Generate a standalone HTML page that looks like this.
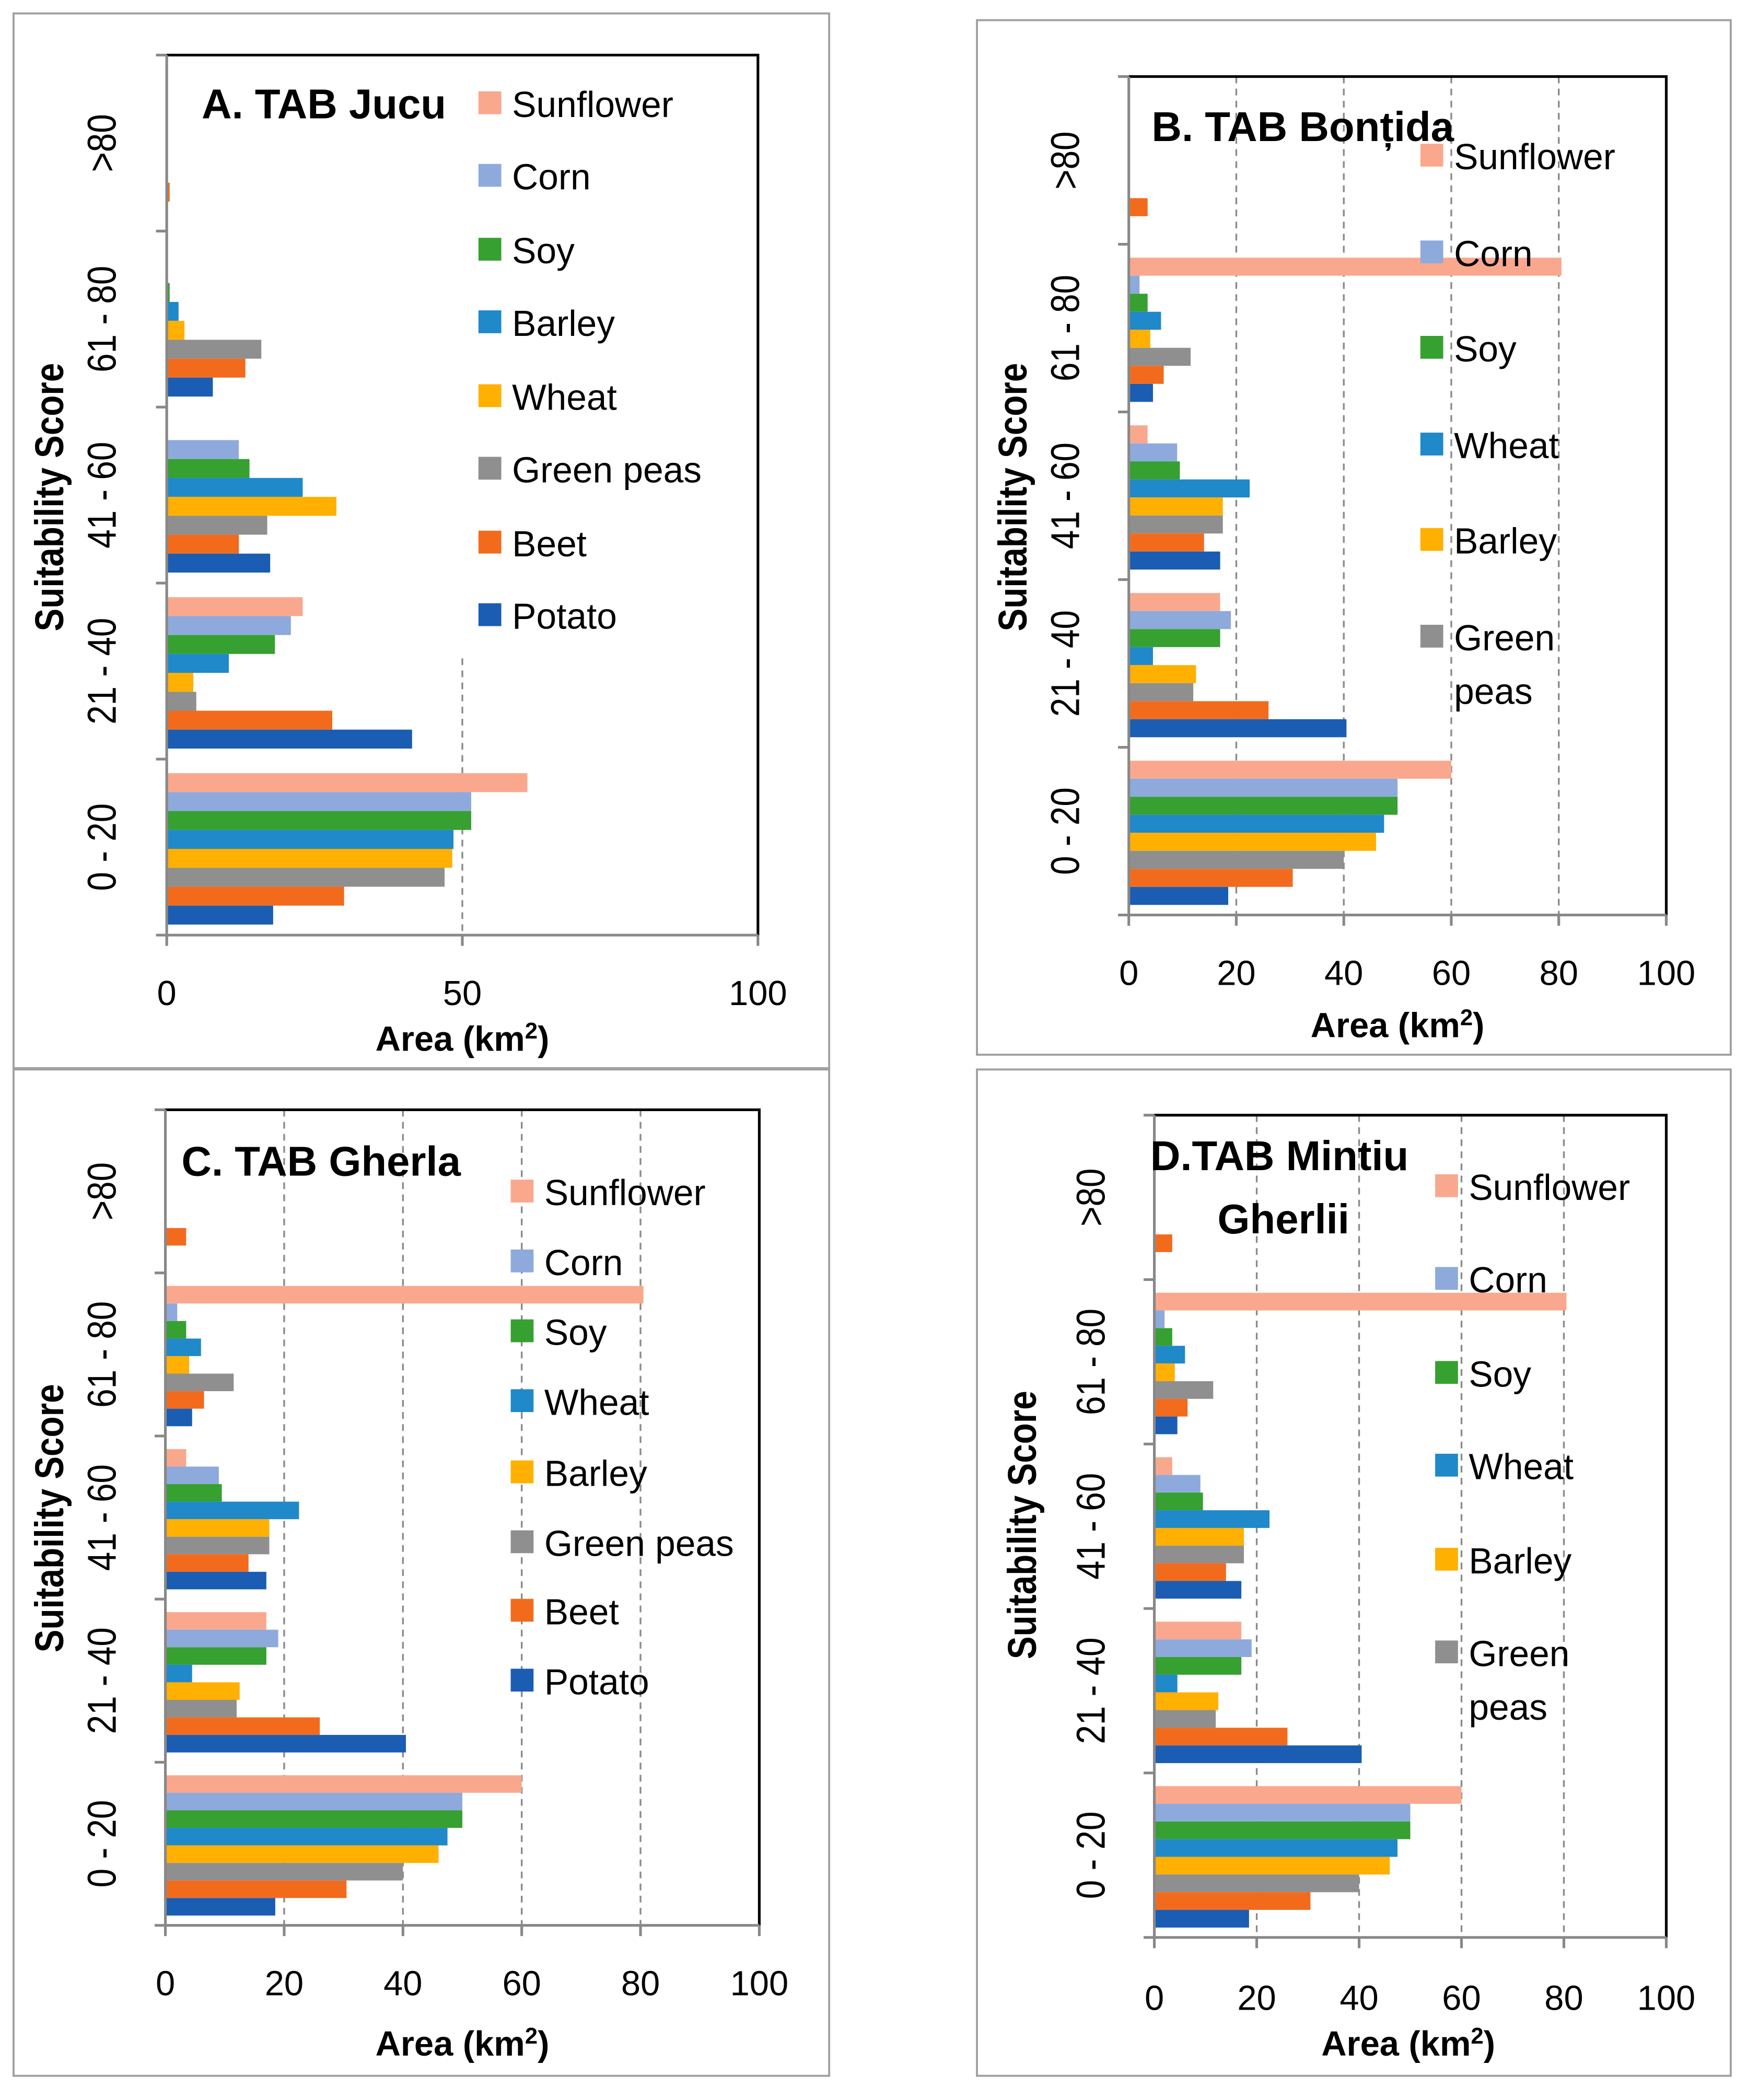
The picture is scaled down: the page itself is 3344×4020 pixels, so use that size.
<!DOCTYPE html>
<html><head><meta charset="utf-8"><style>
html,body{margin:0;padding:0;background:#fff;}
svg{display:block;}
text{font-family:"Liberation Sans","DejaVu Sans",sans-serif;fill:#000;}
</style></head><body>
<svg id="fig" width="3344" height="4020" viewBox="0 0 1300 1563" xmlns="http://www.w3.org/2000/svg"></svg>
<script>
const categories = ["0 - 20","21 - 40","41 - 60","61 - 80",">80"];
const namesA = ["Sunflower","Corn","Soy","Barley","Wheat","Green peas","Beet","Potato"];
const namesB = ["Sunflower","Corn","Soy","Wheat","Barley","Green peas","Beet","Potato"];
// values[series][category]
const valuesA = [
  [61,23,0.2,0,0],
  [51.5,21,12.2,0,0],
  [51.5,18.3,14,0.5,0],
  [48.5,10.5,23,2,0],
  [48.3,4.5,28.7,3,0],
  [47,5,17,16,0],
  [30,28,12.2,13.3,0.5],
  [18,41.5,17.5,7.8,0]
];
const valuesB = [
  [60,17,3.5,80.5,0],
  [50,19,9,2,0],
  [50,17,9.5,3.5,0],
  [47.5,4.5,22.5,6,0],
  [46,12.5,17.5,4,0],
  [40,12,17.5,11.5,0],
  [30.5,26,14,6.5,3.5],
  [18.5,40.5,17,4.5,0]
];
const ticksA = [0,50,100];
const ticksB = [0,20,40,60,80,100];
const colors = ["#f9a88e","#8eaadc","#36a030","#1f89c9","#ffb000","#8f8f8f","#f26b1d","#1a5db3"];

const NS="http://www.w3.org/2000/svg";
const svg=document.getElementById('fig');
function mk(tag,attrs,parent){const e=document.createElementNS(NS,tag);for(const k in attrs)e.setAttribute(k,attrs[k]);(parent||svg).appendChild(e);return e;}

const panels=[
 {id:'a',frame:[10,10,607,785],L:124,R:564,T:41,B:696,values:valuesA,names:namesA,ticks:ticksA,grid:[[50,490]],
  title:[["A. TAB Jucu",150,88]],legX:356,legY:[77,131,186,240,295,349,404,458],legShow:8,ylabX:86,ytX:47,ytY:370,tickY:748,xtY:782,xtX:344},
 {id:'b',frame:[727,15,561,770],L:840,R:1240,T:57,B:681,values:valuesB,names:namesB,ticks:ticksB,grid:[[20,57],[40,57],[60,57],[80,57]],
  title:[["B. TAB Bonțida",857,105]],legX:1057,legY:[116,188,259,331,402,474],legShow:6,split:true,ylabX:803,ytX:764,ytY:370,tickY:733,xtY:772,xtX:1040},
 {id:'c',frame:[10,796,607,749],L:123,R:565,T:826,B:1433,values:valuesB,names:namesB,ticks:ticksB,grid:[[20,826],[40,826],[60,826],[80,826]],
  title:[["C. TAB Gherla",135,875]],legX:380,legY:[887,939,991,1043,1096,1148,1199,1251],legShow:8,ylabX:86,ytX:47,ytY:1130,tickY:1485,xtY:1530,xtX:344},
 {id:'d',frame:[727,796,561,749],L:859,R:1240,T:830,B:1442,values:valuesB,names:namesB,ticks:ticksB,grid:[[20,830],[40,830],[60,830],[80,830]],
  title:[["D.TAB Mintiu",856,871],["Gherlii",906,918]],legX:1068,legY:[883,952,1022,1091,1161,1230],legShow:6,split:true,ylabX:822,ytX:771,ytY:1135,tickY:1496,xtY:1530,xtX:1048}
];

panels.forEach(p=>{
  const g=mk('g',{});
  
  
  const fr=mk('rect',{x:p.frame[0],y:p.frame[1],width:p.frame[2],height:p.frame[3],fill:'#fff',stroke:'#a0a0a0','stroke-width':1.5},g);
  
  
  const xs=v=>p.L+(p.R-p.L)*v/100;
  const H=(p.B-p.T)/categories.length;
  p.grid.forEach(gr=>{
    const l=mk('line',{x1:xs(gr[0]),x2:xs(gr[0]),y1:gr[1],y2:p.B,stroke:'#8a8a8a','stroke-width':1.3,'stroke-dasharray':'5,4'},g);
    
    
  });
  const pf=mk('path',{d:`M${p.L},${p.T}H${p.R}V${p.B}`,fill:'none',stroke:'#000','stroke-width':2},g);
  
  
  const bh=H*0.86/8;
  categories.forEach((c,ci)=>{
    const cTop=p.B-(ci+1)*H;
    p.values.forEach((ser,si)=>{
      const v=ser[ci];
      if(v<=0)return;
      const r=mk('rect',{x:p.L,y:cTop+H*0.08+si*bh,width:xs(v)-p.L,height:bh,fill:colors[si]},g);
      
      
    });
    const t=mk('text',{x:0,y:0,'font-size':30,'text-anchor':'middle',transform:`translate(${p.ylabX},${cTop+H/2}) rotate(-90) scale(0.85,1)`},g);
    t.textContent=c;
    
    
  });
  const ya=mk('line',{x1:p.L,x2:p.L,y1:p.T,y2:p.B,stroke:'#888','stroke-width':2},g);
  
  
  const xa=mk('line',{x1:p.L,x2:p.R,y1:p.B,y2:p.B,stroke:'#888','stroke-width':2},g);
  
  
  for(let i=0;i<=categories.length;i++){
    const tk=mk('line',{x1:p.L-8,x2:p.L,y1:p.T+i*H,y2:p.T+i*H,stroke:'#888','stroke-width':2},g);
    
    
  }
  p.ticks.forEach(tv=>{
    const tk=mk('line',{x1:xs(tv),x2:xs(tv),y1:p.B,y2:p.B+8,stroke:'#888','stroke-width':2},g);
    
    
    const t=mk('text',{x:xs(tv),y:p.tickY,'font-size':26,'text-anchor':'middle'},g);
    t.textContent=tv;
    
    
  });
  const xt=mk('text',{x:p.xtX,y:p.xtY,'font-size':26,'font-weight':'bold','text-anchor':'middle'},g);
  xt.innerHTML='Area (km<tspan font-size="17" dy="-9">2</tspan><tspan dy="9">)</tspan>';
  
  
  const yt=mk('text',{x:0,y:0,'font-size':30,'font-weight':'bold','text-anchor':'middle',transform:`translate(${p.ytX},${p.ytY}) rotate(-90) scale(0.85,1)`},g);
  yt.textContent='Suitability  Score';
  
  
  p.title.forEach(tt=>{
    const t=mk('text',{x:tt[1],y:tt[2],'font-size':31,'font-weight':'bold'},g);
    t.textContent=tt[0];
    
    
  });
  for(let i=0;i<p.legShow;i++){
    const y=p.legY[i];
    const sq=mk('rect',{x:p.legX,y:y-9,width:17,height:17,fill:colors[i]},g);
    
    
    const t=mk('text',{x:p.legX+25,y:y+10,'font-size':27},g);
    
    
    if(p.split && p.names[i]==='Green peas'){
      t.textContent='Green';
      const t2=mk('text',{x:p.legX+25,y:y+50,'font-size':27},g);
      t2.textContent='peas';
      
      
    } else t.textContent=p.names[i];
  }
});
</script>
</body></html>
